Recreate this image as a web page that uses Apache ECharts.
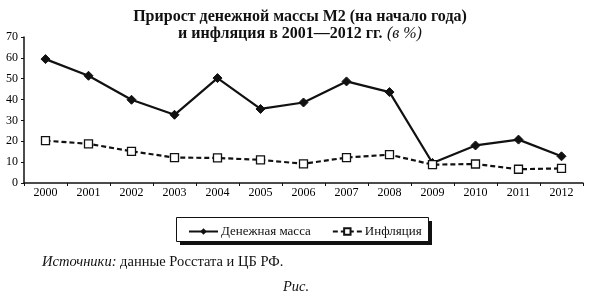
<!DOCTYPE html>
<html><head><meta charset="utf-8">
<script src="https://cdn.jsdelivr.net/npm/echarts@6/dist/echarts.min.js"></script>
<style>html,body{margin:0;padding:0;background:#fff}#c{width:590px;height:301px}</style>
</head><body><div id="c"></div>
<script>
const years = ['2000','2001','2002','2003','2004','2005','2006','2007','2008','2009','2010','2011','2012'];
const moneySupply = [59.4, 51.4, 39.9, 32.7, 50.3, 35.5, 38.6, 48.7, 43.6, 9.6, 18.0, 20.8, 12.8];
const inflation = [20.3, 18.8, 15.2, 12.2, 12.0, 11.1, 9.2, 12.2, 13.6, 8.8, 9.1, 6.6, 7.0];
const yTicks = [0, 10, 20, 30, 40, 50, 60, 70];
const serif = '"Liberation Serif", "DejaVu Serif", serif';

const chart = echarts.init(document.getElementById('c'), null, {renderer: 'canvas'});
chart.setOption({
  animation: false,
  backgroundColor: '#fff',
  title: {
    left: 295, top: 3, textAlign: 'center',
    text: '{b|Прирост денежной массы М2 (на начало года)}\n{b|и инфляция в 2001—2012 гг.} {i|(в %)}',
    textStyle: {
      fontFamily: serif, lineHeight: 17,
      rich: {
        b: {fontFamily: serif, fontSize: 16, fontWeight: 'bold', color: '#111', lineHeight: 17},
        i: {fontFamily: serif, fontSize: 16, fontWeight: 'normal', fontStyle: 'italic', color: '#111', lineHeight: 17}
      }
    }
  },
  grid: {left: 24, right: 7, top: 37, bottom: 118, containLabel: false},
  legend: {
    left: 176, top: 217,
    itemWidth: 29, itemHeight: 8, itemGap: 21,
    padding: [8, 10, 8, 12],
    textStyle: {fontFamily: serif, fontSize: 13, color: '#111', padding: [0, 0, 0, -2]},
    data: ['Денежная масса', 'Инфляция']
  },
  xAxis: {
    type: 'category', data: years, boundaryGap: true,
    axisLine: {lineStyle: {color: '#111', width: 1.5}},
    axisTick: {show: true, inside: false, length: 3, lineStyle: {color: '#111'}, alignWithLabel: false},
    axisLabel: {fontFamily: serif, fontSize: 12, color: '#000', margin: 4}
  },
  yAxis: {
    type: 'value', min: 0, max: 70, interval: 10,
    axisLine: {show: true, lineStyle: {color: '#111', width: 1.5}},
    axisTick: {show: true, length: 3, lineStyle: {color: '#111'}},
    splitLine: {show: false},
    axisLabel: {fontFamily: serif, fontSize: 12, color: '#000', margin: 6,
      formatter: v => yTicks.includes(v) ? String(v) : ''}
  },
  series: [
    {
      name: 'Денежная масса', type: 'line', data: moneySupply,
      symbol: 'diamond', symbolSize: 9, showAllSymbol: true,
      lineStyle: {color: '#111', width: 2.2},
      itemStyle: {color: '#111', borderColor: '#111'}
    },
    {
      name: 'Инфляция', type: 'line', data: inflation,
      symbol: 'rect', symbolSize: 8, showAllSymbol: true,
      lineStyle: {color: '#111', width: 2.2, type: [5, 3]},
      itemStyle: {color: '#fff', borderColor: '#111', borderWidth: 1.3}
    }
  ],
  graphic: [
    {type: 'rect', z: 1, shape: {x: 180, y: 221, width: 252, height: 24}, style: {fill: '#111'}},
    {type: 'rect', z: 2, shape: {x: 176.5, y: 217.5, width: 252, height: 24}, style: {fill: '#fff', stroke: '#111', lineWidth: 1}},
    {type: 'text', left: 42, top: 255, style: {
      text: '{i|Источники:} данные Росстата и ЦБ РФ.',
      font: '14.5px ' + serif, fill: '#111',
      rich: {i: {fontStyle: 'italic', fontFamily: serif, fontSize: 14.5, fill: '#111'}}
    }},
    {type: 'text', left: 283, top: 280, style: {
      text: 'Рис.', font: 'italic 14.5px ' + serif, fill: '#111'
    }}
  ]
});
</script>
</body></html>
